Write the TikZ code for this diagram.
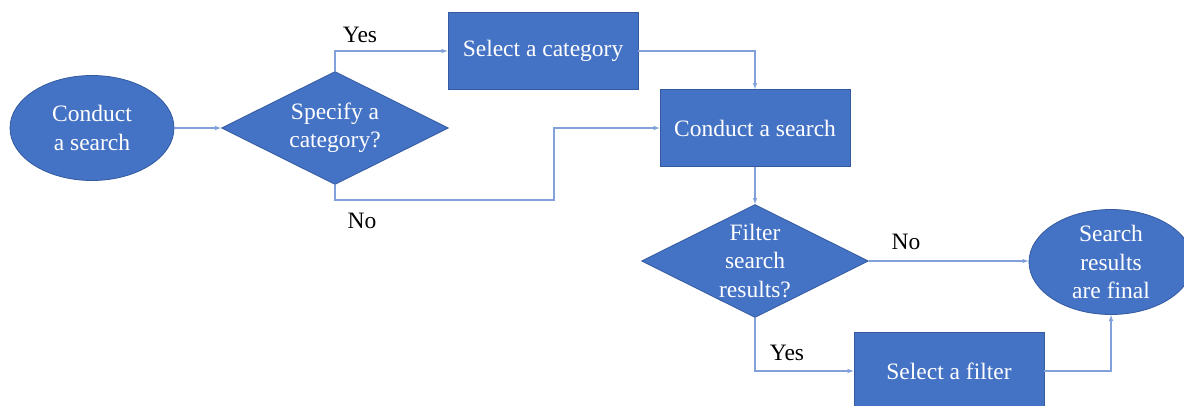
\documentclass[tikz,border=0pt]{standalone}
\usepackage{fontspec}
\setmainfont{LiberationSerif}[Extension=.ttf, UprightFont=*-Regular, BoldFont=*-Bold, ItalicFont=*-Italic, BoldItalicFont=*-BoldItalic]
\usepackage{xcolor}
\usetikzlibrary{arrows}
\usetikzlibrary{shapes.geometric, math}

\definecolor{boxblue}{RGB}{68,114,196}
\definecolor{edgeblue}{RGB}{52,90,160}
\definecolor{lineblue}{RGB}{130,160,218}

\begin{document}
\begin{tikzpicture}[x=1pt, y=-1pt,
 blk/.style={draw=edgeblue, line width=0.8pt, fill=boxblue},
 proc/.style={blk, rectangle, minimum width=190pt, minimum height=77pt, inner sep=0pt,
   text=white, font=\fontsize{23.5}{28.5}\selectfont},
 term/.style={blk, ellipse, minimum width=164pt, minimum height=105pt, inner sep=0pt},
 decision/.style={blk, diamond, aspect=2, minimum width=227pt, minimum height=113pt, inner sep=0pt},
 txt/.style={text=white, font=\fontsize{23.5}{28.5}\selectfont, align=center},
 conn/.style={-latex, draw=lineblue, line width=1.1pt},
 lbl/.style={font=\fontsize{23.5}{28.5}\selectfont, anchor=base},
]
\tikzmath{
\W=1184;
\H=405;
}
\useasboundingbox (0,0) rectangle (\W,\H);

 %shapes:
 \node[term] (start) at (92,128) {};
 \node[txt] (starttxt) at (start.center) {Conduct\\a search};
 \node[decision] (spec) at (335,128) {};
 \node[txt] (spectxt) at (spec.center) {Specify a\\category?};
 \node[proc] (selcat) at (543,51) {Select a category};
 \node[proc] (search) at (755,128) {Conduct a search};
 \node[decision] (filt) at (755,261) {};
 \node[txt] (filttxt) at (filt.center) {Filter\\search\\results?};
 \node[term] (final) at (1111,262) {};
 \node[txt] (finaltxt) at (final.center) {Search\\results\\are final};
 \node[proc] (selfil) at (949,371) {Select a filter};
 \coordinate (nobend) at (554,200);

 %connectors:
 \draw[conn] (start) -- (spec);
 \draw[conn] (spec.north) |- (selcat.west);
 \draw[conn] (selcat.east) -| (search.north);
 \draw[conn] (spec.south) |- (nobend) |- (search.west);
 \draw[conn] (search.south) -- (filt.north);
 \draw[conn] (filt.east) -- (filt.east -| final.west);
 \draw[conn] (filt.south) |- (selfil.west);
 \draw[conn] (selfil.east) -| (final.south);

 %labels:
 \node[lbl] (yes1) at (360,42) {Yes};
 \node[lbl] (no1) at (362,228) {No};
 \node[lbl] (no2) at (906,249) {No};
 \node[lbl] (yes2) at (787,360) {Yes};
\end{tikzpicture}
\end{document}
